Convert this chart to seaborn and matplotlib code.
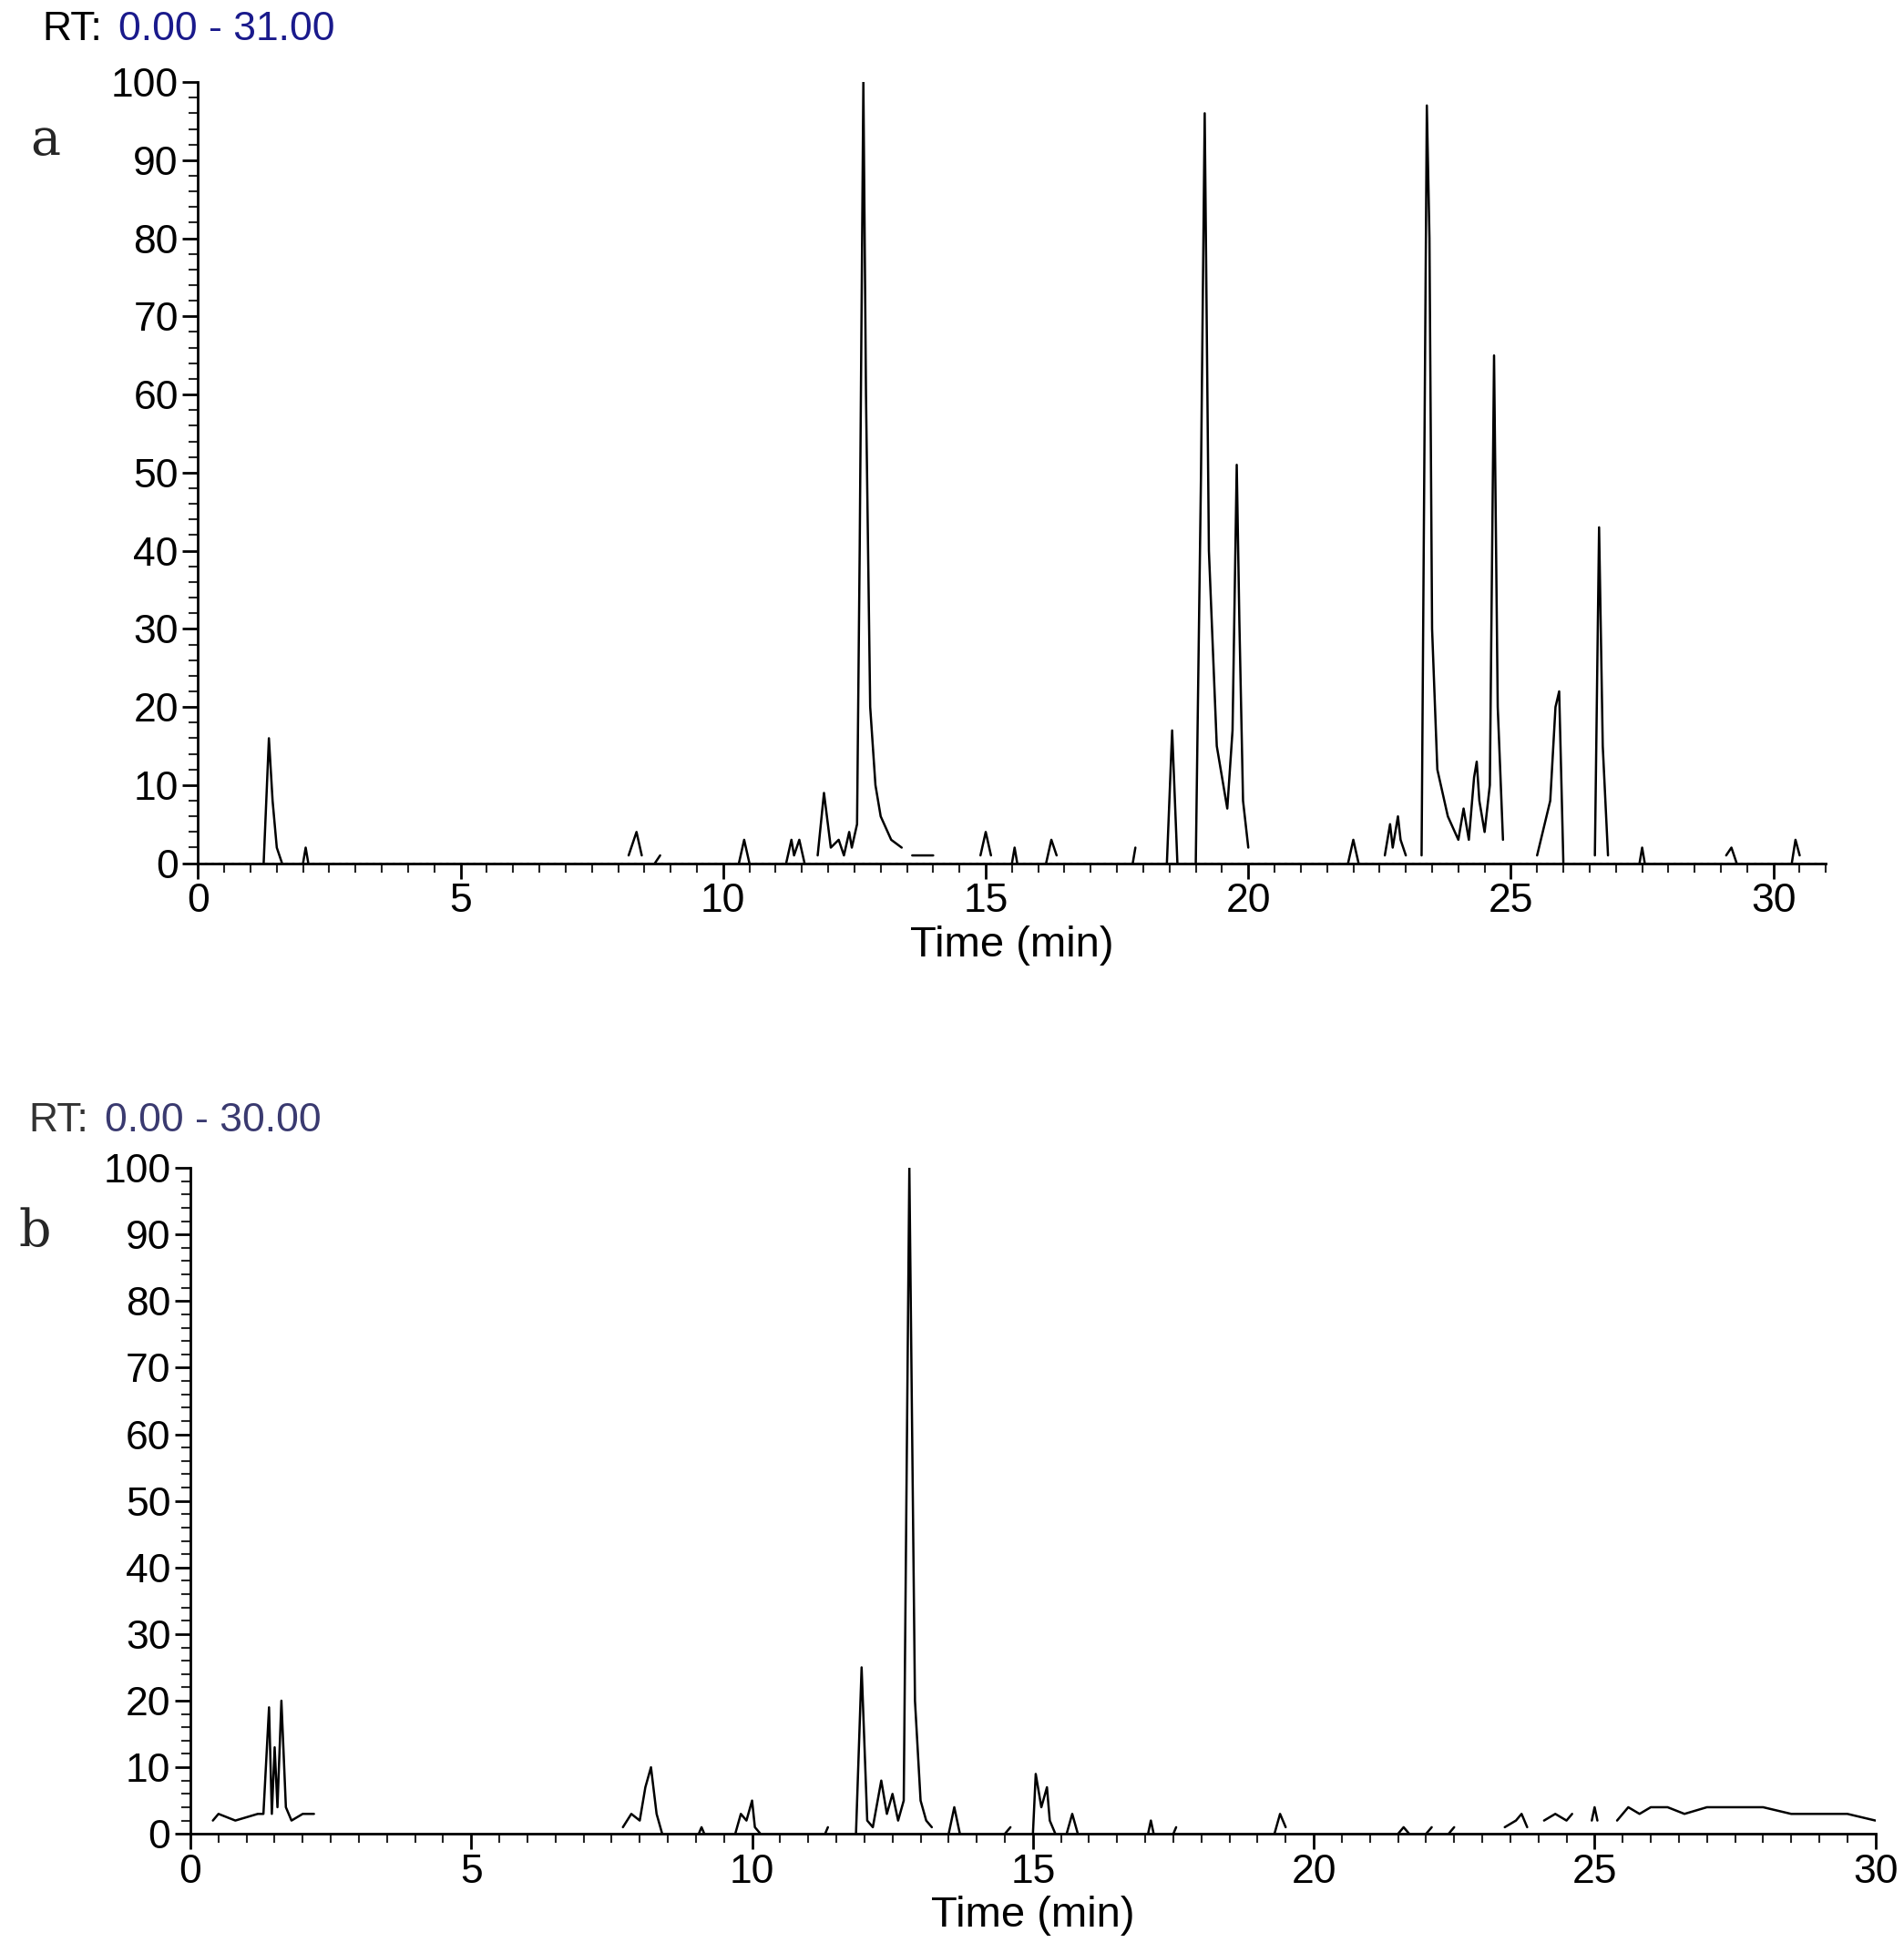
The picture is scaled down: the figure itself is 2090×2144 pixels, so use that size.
import numpy as np
import matplotlib
matplotlib.use("Agg")
import matplotlib.pyplot as plt
from matplotlib.ticker import MultipleLocator
import seaborn as sns

sns.set_theme(style="white")
plt.rcParams['font.family'] = ['Liberation Sans', 'DejaVu Sans']

nan = np.nan
# panel a: trace vertices (time, relative abundance); nan breaks the line
time_a = [1.25, 1.35, 1.42, 1.5, 1.6, nan, 2.0, 2.05, 2.1, nan,
          8.2, 8.35, 8.45, nan, 8.7, 8.8, nan, 10.3, 10.4, 10.5, nan,
          11.2, 11.3, 11.35, 11.45, 11.55, nan, 11.8, 11.92, 12.05, 12.2, 12.3, 12.4, 12.45, 12.55,
          12.6, 12.67, 12.72, 12.8, 12.9, 13.0, 13.2, 13.4, nan, 13.6, 14.0, nan,
          14.9, 15.0, 15.1, nan, 15.5, 15.55, 15.6, nan, 16.15, 16.25, 16.35, nan,
          17.8, 17.85, nan, 18.45, 18.55, 18.65, nan, 19.0, 19.1, 19.17, 19.25, 19.4, 19.6,
          19.7, 19.78, 19.83, 19.9, 20.0, nan, 21.9, 22.0, 22.1, nan,
          22.6, 22.7, 22.75, 22.85, 22.9, 23.0, nan, 23.3, 23.4, 23.45, 23.5, 23.6, 23.8, 24.0,
          24.1, 24.2, 24.3, 24.35, 24.4, 24.5, 24.6, 24.68, 24.75, 24.85, nan,
          25.5, 25.75, 25.85, 25.92, 26.0, nan, 26.6, 26.68, 26.75, 26.85, nan,
          27.45, 27.5, 27.55, nan, 29.1, 29.2, 29.3, nan, 30.35, 30.42, 30.5]
int_a = [0, 16, 8, 2, 0, nan, 0, 2, 0, nan,
         1, 4, 1, nan, 0, 1, nan, 0, 3, 0, nan,
         0, 3, 1, 3, 0, nan, 1, 9, 2, 3, 1, 4, 2, 5,
         40, 100, 60, 20, 10, 6, 3, 2, nan, 1, 1, nan,
         1, 4, 1, nan, 0, 2, 0, nan, 0, 3, 1, nan,
         0, 2, nan, 0, 17, 0, nan, 0, 50, 96, 40, 15, 7,
         17, 51, 31, 8, 2, nan, 0, 3, 0, nan,
         1, 5, 2, 6, 3, 1, nan, 1, 97, 80, 30, 12, 6, 3,
         7, 3, 11, 13, 8, 4, 10, 65, 20, 3, nan,
         1, 8, 20, 22, 0, nan, 1, 43, 15, 1, nan,
         0, 2, 0, nan, 1, 2, 0, nan, 0, 3, 1]

# panel b
time_b = [0.4, 0.5, 0.8, 1.2, 1.3, 1.4, 1.45, 1.5, 1.55, 1.62, 1.7, 1.8, 2.0, 2.2, nan,
          7.7, 7.85, 8.0, 8.1, 8.2, 8.3, 8.4, nan, 9.05, 9.1, 9.15, nan, 9.7, 9.8, 9.9, 10.0, 10.05, 10.15, nan,
          11.3, 11.35, nan, 11.85, 11.95, 12.05, 12.15, 12.3, 12.4, 12.5, 12.6, 12.7, 12.8, 12.85, 12.9, 13.0, 13.1, 13.2, nan,
          13.5, 13.6, 13.7, nan, 14.5, 14.6, nan, 15.0, 15.05, 15.15, 15.25, 15.3, 15.4, nan, 15.6, 15.7, 15.8, nan,
          17.05, 17.1, 17.15, nan, 17.5, 17.55, nan, 19.3, 19.4, 19.5, nan, 21.5, 21.6, 21.7, nan,
          22.0, 22.1, nan, 22.4, 22.5, nan, 23.4, 23.6, 23.7, 23.8, nan, 24.1, 24.3, 24.5, 24.6, nan,
          24.95, 25.0, 25.05, nan, 25.4, 25.6, 25.8, 26.0, 26.3, 26.6, 27.0, 27.5, 28.0, 28.5, 29.0, 29.5, 30.0]
int_b = [2, 3, 2, 3, 3, 19, 3, 13, 4, 20, 4, 2, 3, 3, nan,
         1, 3, 2, 7, 10, 3, 0, nan, 0, 1, 0, nan, 0, 3, 2, 5, 1, 0, nan,
         0, 1, nan, 0, 25, 2, 1, 8, 3, 6, 2, 5, 100, 60, 20, 5, 2, 1, nan,
         0, 4, 0, nan, 0, 1, nan, 0, 9, 4, 7, 2, 0, nan, 0, 3, 0, nan,
         0, 2, 0, nan, 0, 1, nan, 0, 3, 1, nan, 0, 1, 0, nan,
         0, 1, nan, 0, 1, nan, 1, 2, 3, 1, nan, 2, 3, 2, 3, nan,
         2, 4, 2, nan, 2, 4, 3, 4, 4, 3, 4, 4, 4, 3, 3, 3, 2]

fig = plt.figure(figsize=(20.9, 21.44), dpi=100)
ax_a = fig.add_axes([0.104, 0.558, 0.855, 0.4])
ax_b = fig.add_axes([0.1, 0.061, 0.885, 0.341])


def style_axis(ax, xmax):
    ax.set_xlim(0, xmax)
    ax.set_ylim(0, 100)
    ax.set_yticks(range(0, 101, 10))
    ax.set_xticks(range(0, int(xmax) + 1, 5))
    ax.xaxis.set_minor_locator(MultipleLocator(0.5))
    ax.yaxis.set_minor_locator(MultipleLocator(2))
    for s in ['top', 'right']:
        ax.spines[s].set_visible(False)
    for s in ['left', 'bottom']:
        ax.spines[s].set_color('black')
        ax.spines[s].set_linewidth(2)
    ax.tick_params(which='major', direction='out', length=12, width=2, labelsize=32,
                   left=True, bottom=True, colors='black')
    ax.tick_params(which='minor', direction='out', length=7, width=1.5, left=True, bottom=True)
    ax.set_xlabel("Time (min)", fontsize=34, color='black')
    ax.set_ylabel("")
    ax.grid(False)


# matplotlib plot keeps the nan gaps between peaks (seaborn would drop them)
ax_a.plot(time_a, int_a, color='black', linewidth=1.8)
ax_a.axhline(0, color='black', linestyle=':', linewidth=2)
style_axis(ax_a, 31)

ax_b.plot(time_b, int_b, color='black', linewidth=1.8)
style_axis(ax_b, 30)

fig.text(0.022, 0.985, "RT:", fontsize=32, color='black', va='center')
fig.text(0.062, 0.985, "0.00 - 31.00", fontsize=32, color='#1a1a8c', va='center')
fig.text(0.015, 0.426, "RT:", fontsize=32, color='#333333', va='center')
fig.text(0.055, 0.426, "0.00 - 30.00", fontsize=32, color='#3a3a70', va='center')
fig.text(0.016, 0.928, "a", fontsize=40, family='DejaVu Serif', va='center')
fig.text(0.01, 0.369, "b", fontsize=40, family='DejaVu Serif', va='center')

fig.savefig("out.png", dpi=100, facecolor='white')
